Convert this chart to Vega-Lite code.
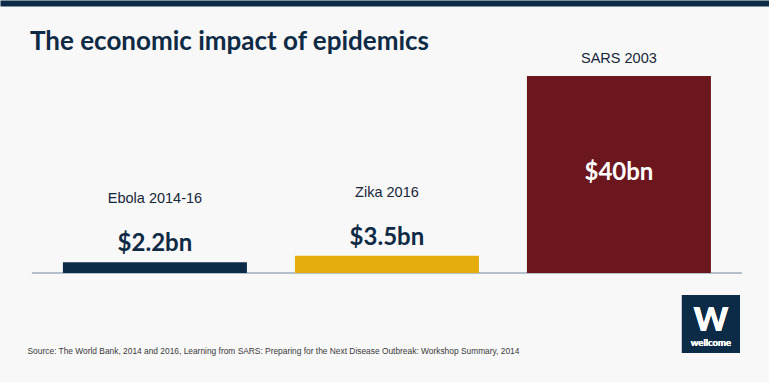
{
  "$schema": "https://vega.github.io/schema/vega-lite/v6.json",
  "width": 769,
  "height": 197,
  "autosize": "none",
  "padding": {"left": 0, "right": 0, "top": 76, "bottom": 109},
  "background": "#f8f8f8",
  "config": {"view": {"stroke": null}},
  "title": {
    "text": "The economic impact of epidemics",
    "anchor": "start",
    "frame": "group",
    "orient": "top",
    "offset": 0,
    "baseline": "alphabetic",
    "font": "Lato",
    "fontSize": 26,
    "fontWeight": "bold",
    "color": "#0e2a45",
    "dx": 30,
    "dy": 73
  },
  "data": {
    "values": [
      {"name": "Ebola 2014-16", "value": 2.2, "label": "$2.2bn"},
      {"name": "Zika 2016", "value": 3.5, "label": "$3.5bn"},
      {"name": "SARS 2003", "value": 40, "label": "$40bn"}
    ]
  },
  "layer": [
    {
      "mark": {"type": "rule", "color": "#a9b8c6", "strokeWidth": 1.2},
      "encoding": {
        "x": {"datum": "Ebola 2014-16", "type": "nominal", "bandPosition": -0.1685, "axis": null,
              "scale": {"domain": ["Ebola 2014-16", "Zika 2016", "SARS 2003"]}},
        "x2": {"datum": "SARS 2003", "bandPosition": 1.1685},
        "y": {"datum": 0, "type": "quantitative", "axis": null, "scale": {"domain": [0, 40], "nice": false}}
      }
    },
    {
      "mark": {"type": "bar"},
      "encoding": {
        "x": {
          "field": "name", "type": "nominal",
          "scale": {"domain": ["Ebola 2014-16", "Zika 2016", "SARS 2003"], "paddingInner": 0.2069, "paddingOuter": 0.2608, "align": 0.52},
          "axis": {
            "orient": "bottom", "domain": false, "labels": false, "ticks": false, "grid": false,
            "title": "Source: The World Bank, 2014 and 2016, Learning from SARS: Preparing for the Next Disease Outbreak: Workshop Summary, 2014",
            "titleFont": "Liberation Sans", "titleFontSize": 8.4, "titleFontWeight": "normal", "titleColor": "#3a3a3a",
            "titleAnchor": "start", "titleAlign": "left", "titleX": 27, "titleY": 80, "titleBaseline": "alphabetic"
          }
        },
        "y": {"field": "value", "type": "quantitative", "axis": null, "scale": {"domain": [0, 40], "nice": false}},
        "color": {
          "field": "name", "type": "nominal", "legend": null,
          "scale": {"domain": ["Ebola 2014-16", "Zika 2016", "SARS 2003"], "range": ["#0c2b46", "#e6ad0f", "#6c161e"]}
        }
      }
    },
    {
      "transform": [{"filter": "datum.value < 10"}],
      "mark": {"type": "text", "font": "Lato", "fontSize": 24, "fontWeight": "bold", "color": "#0e2a45", "baseline": "alphabetic", "dy": -11},
      "encoding": {
        "x": {"field": "name", "type": "nominal", "axis": null, "scale": {"domain": ["Ebola 2014-16", "Zika 2016", "SARS 2003"]}},
        "y": {"field": "value", "type": "quantitative", "axis": null, "scale": {"domain": [0, 40], "nice": false}},
        "text": {"field": "label"}
      }
    },
    {
      "transform": [{"filter": "datum.value < 10"}],
      "mark": {"type": "text", "font": "Liberation Sans", "fontSize": 14.5, "color": "#172638", "baseline": "alphabetic", "dy": -59},
      "encoding": {
        "x": {
          "field": "name", "type": "nominal", "scale": {"domain": ["Ebola 2014-16", "Zika 2016", "SARS 2003"]},
          "axis": {"orient": "top", "labels": false, "ticks": false, "grid": false, "title": null, "domain": true, "domainColor": "#0c2b46", "domainWidth": 6, "offset": 73}
        },
        "y": {"field": "value", "type": "quantitative", "axis": null, "scale": {"domain": [0, 40], "nice": false}},
        "text": {"field": "name"}
      }
    },
    {
      "transform": [{"filter": "datum.value >= 10"}],
      "mark": {"type": "text", "font": "Liberation Sans", "fontSize": 14.5, "color": "#172638", "baseline": "alphabetic", "dy": -13.3},
      "encoding": {
        "x": {"field": "name", "type": "nominal", "axis": null, "scale": {"domain": ["Ebola 2014-16", "Zika 2016", "SARS 2003"]}},
        "y": {"field": "value", "type": "quantitative", "axis": null, "scale": {"domain": [0, 40], "nice": false}},
        "text": {"field": "name"}
      }
    },
    {
      "transform": [{"filter": "datum.value >= 10"}],
      "mark": {"type": "text", "font": "Lato", "fontSize": 24, "fontWeight": "bold", "color": "#ffffff", "baseline": "alphabetic", "dy": 5.5},
      "encoding": {
        "x": {"field": "name", "type": "nominal", "axis": null, "scale": {"domain": ["Ebola 2014-16", "Zika 2016", "SARS 2003"]}},
        "y": {"datum": 20, "type": "quantitative", "axis": null, "scale": {"domain": [0, 40], "nice": false}},
        "text": {"field": "label"}
      }
    },
    {
      "mark": {"type": "point", "shape": "square", "filled": true, "size": 3364, "color": "#0c2b46", "opacity": 1, "strokeWidth": 0},
      "encoding": {
        "x": {"datum": "SARS 2003", "type": "nominal", "bandPosition": 1, "axis": null, "scale": {"domain": ["Ebola 2014-16", "Zika 2016", "SARS 2003"]}},
        "y": {"datum": -10.36, "type": "quantitative", "axis": null, "scale": {"domain": [0, 40], "nice": false}}
      }
    },
    {
      "mark": {"type": "text", "text": "W", "font": "Lato", "fontSize": 33, "fontWeight": 900, "color": "#ffffff", "baseline": "alphabetic"},
      "encoding": {
        "x": {"datum": "SARS 2003", "type": "nominal", "bandPosition": 1, "axis": null, "scale": {"domain": ["Ebola 2014-16", "Zika 2016", "SARS 2003"]}},
        "y": {"datum": -11.7, "type": "quantitative", "axis": null, "scale": {"domain": [0, 40], "nice": false}}
      }
    },
    {
      "mark": {"type": "text", "text": "wellcome", "font": "Lato", "fontSize": 9.5, "fontWeight": "bold", "color": "#ffffff", "baseline": "alphabetic"},
      "encoding": {
        "x": {"datum": "SARS 2003", "type": "nominal", "bandPosition": 1, "axis": null, "scale": {"domain": ["Ebola 2014-16", "Zika 2016", "SARS 2003"]}},
        "y": {"datum": -14.9, "type": "quantitative", "axis": null, "scale": {"domain": [0, 40], "nice": false}}
      }
    }
  ]
}
